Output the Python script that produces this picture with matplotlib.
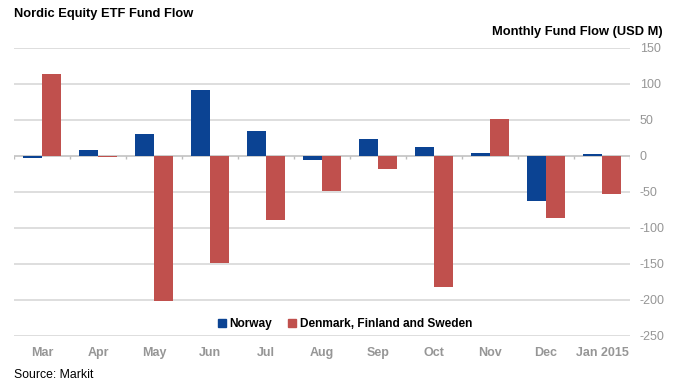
import numpy as np
import matplotlib; matplotlib.use('Agg')
import matplotlib.pyplot as plt
from matplotlib.patches import Patch

plt.rcParams['font.family'] = ['Liberation Sans', 'DejaVu Sans']

months = ['Mar', 'Apr', 'May', 'Jun', 'Jul', 'Aug', 'Sep', 'Oct', 'Nov', 'Dec', 'Jan 2015']
norway = [-3, 8, 30, 92, 35, -6, 23, 13, 4, -63, 3]
nordics = [114, -2, -202, -149, -89, -48, -18, -182, 52, -86, -53]
yticks = [150, 100, 50, 0, -50, -100, -150, -200, -250]

BLUE = '#0B4393'; RED = '#C0504D'; GRID = '#d4d4d4'; TXT = '#969696'

fig = plt.figure(figsize=(6.79, 3.85), dpi=100)
ax = fig.add_axes([14/679, 1-336/385, 616/679, 288/385])

x = np.arange(len(months))
w = 0.34
ax.bar(x - w/2, norway, w, color=BLUE, zorder=3)
ax.bar(x + w/2, nordics, w, color=RED, zorder=3)

ax.set_xlim(-0.5, len(months) - 0.5)
ax.set_ylim(-250, 150)
for v in yticks:
    ax.axhline(v, color=GRID if v else '#bdbdbd', lw=1.1, zorder=1)
# little category ticks hanging off the zero line
ax.vlines(np.arange(len(months) + 1) - 0.5, -4, 0, color='#bdbdbd', lw=1, zorder=2)

for s in ax.spines.values(): s.set_visible(False)
ax.yaxis.tick_right()
ax.set_yticks(yticks)
ax.set_yticklabels([str(v) for v in yticks], color=TXT, fontsize=9)
ax.tick_params(axis='y', length=0, pad=7)
ax.set_xticks(x)
ax.set_xticklabels(months, color=TXT, fontsize=9, fontweight='bold')
ax.tick_params(axis='x', length=0, pad=8)

handles = [Patch(color=BLUE, label='Norway'), Patch(color=RED, label='Denmark, Finland and Sweden')]
ax.legend(handles=handles, loc='center', bbox_to_anchor=(0.537, 0.042), ncol=2, frameon=False,
          prop={'size': 8.6, 'weight': 'bold'}, handlelength=0.7, handleheight=0.7,
          handletextpad=0.3, columnspacing=1.3)

fig.text(14/679, 1-14/385, 'Nordic Equity ETF Fund Flow', fontsize=9.3, fontweight='bold', va='center')
fig.text(663/679, 1-32/385, 'Monthly Fund Flow (USD M)', fontsize=9.3, fontweight='bold', va='center', ha='right')
fig.text(14/679, 1-375/385, 'Source: Markit', fontsize=8.8, va='center')

fig.savefig('out.png', dpi=100)
